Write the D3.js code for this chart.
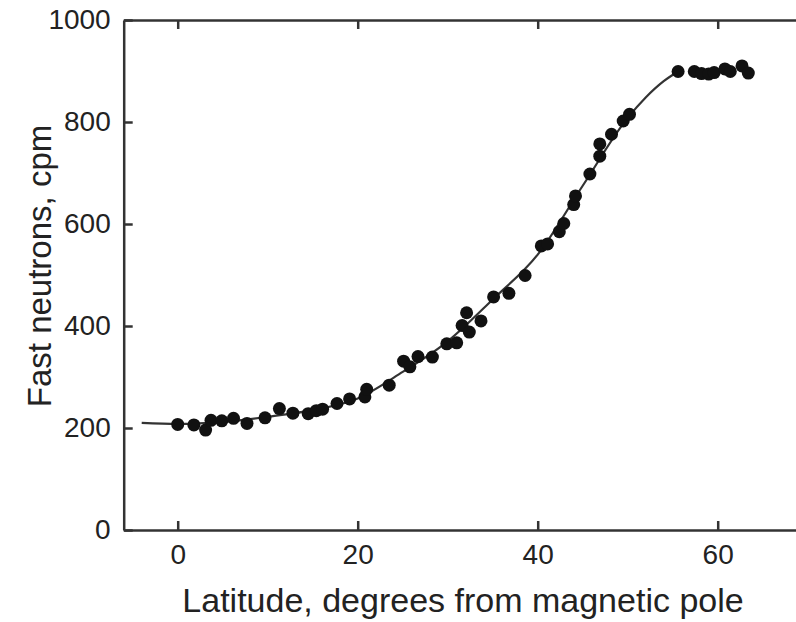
<!DOCTYPE html>
<html>
<head>
<meta charset="utf-8">
<script src="https://cdn.jsdelivr.net/npm/d3@7"></script>
<style>
  html, body { margin: 0; padding: 0; background: #fff; }
  svg { display: block; font-family: "Liberation Sans", Arial, Helvetica, sans-serif; }
</style>
</head>
<body>
<svg id="chart" width="796" height="622"></svg>
<script>
// ---- data ----
const latitude = [0, 1.8, 3.1, 3.7, 4.9, 6.2, 7.7, 9.7, 11.3, 12.8, 14.5, 15.4, 16.1, 17.7, 19.1,
  20.8, 21.0, 23.5, 25.1, 25.8, 26.7, 28.3, 29.9, 31.0, 31.6, 32.1, 32.4, 33.7, 35.1, 36.8, 38.6,
  40.4, 41.1, 42.4, 42.9, 44.0, 44.2, 45.8, 46.9, 46.9, 48.2, 49.5, 50.2,
  55.6, 57.4, 58.2, 59.0, 59.6, 60.8, 61.4, 62.7, 63.4];
const neutrons = [207, 206, 196, 215, 214, 219, 209, 220, 238, 229, 228, 234, 237, 248, 257,
  261, 276, 284, 331, 320, 340, 339, 365, 367, 401, 426, 388, 410, 457, 464, 499,
  557, 561, 585, 601, 638, 655, 698, 733, 757, 776, 802, 815,
  899, 899, 895, 894, 897, 904, 899, 910, 896];

// fitted curve
const fitLatitude = [-4, 0, 5, 10, 15, 20, 25, 30, 35, 40, 45, 50, 52, 54, 55.6];
const fitNeutrons = [210, 208, 212, 222, 235, 258, 310, 370, 452, 540, 675, 808, 848, 880, 899];

const xTicks = [0, 20, 40, 60];
const yTicks = [0, 200, 400, 600, 800, 1000];
const xTitle = "Latitude, degrees from magnetic pole";
const yTitle = "Fast neutrons, cpm";

// ---- layout ----
const svg = d3.select("#chart");
const x = d3.scaleLinear().domain([-6, 70]).range([123.7, 807.7]);
const y = d3.scaleLinear().domain([0, 1000]).range([530, 20]);
const axisColor = "#333";
const textColor = "#222";

// axes (frame with inward ticks)
const gB = svg.append("g").attr("transform", `translate(0,${y(0)})`)
  .call(d3.axisBottom(x).tickValues(xTicks).tickSizeInner(-9).tickSizeOuter(0).tickPadding(14).tickFormat(d3.format("d")));
const gT = svg.append("g").attr("transform", `translate(0,${y(1000)})`)
  .call(d3.axisTop(x).tickValues(xTicks).tickSizeInner(-9).tickSizeOuter(0).tickFormat(""));
const gL = svg.append("g").attr("transform", `translate(${x(-6)},0)`)
  .call(d3.axisLeft(y).tickValues(yTicks).tickSizeInner(-9).tickSizeOuter(0).tickPadding(13).tickFormat(d3.format("d")));
const gR = svg.append("g").attr("transform", `translate(${x(70)},0)`)
  .call(d3.axisRight(y).tickValues(yTicks).tickSizeInner(-10).tickSizeOuter(0).tickFormat(""));

[gB, gT, gL, gR].forEach(g => {
  g.select(".domain").attr("stroke", axisColor).attr("stroke-width", 2.5);
  g.selectAll(".tick line").attr("stroke", axisColor).attr("stroke-width", 2.5);
  g.selectAll(".tick text").attr("fill", textColor).style("font-size", "28px");
});

// fitted line
const line = d3.line().x(d => x(d[0])).y(d => y(d[1])).curve(d3.curveMonotoneX);
svg.append("path")
  .datum(fitLatitude.map((v, i) => [v, fitNeutrons[i]]))
  .attr("d", line)
  .attr("fill", "none")
  .attr("stroke", "#333")
  .attr("stroke-width", 2.2);

// data points
svg.append("g").selectAll("circle")
  .data(latitude.map((v, i) => [v, neutrons[i]]))
  .join("circle")
  .attr("cx", d => x(d[0]))
  .attr("cy", d => y(d[1]))
  .attr("r", 6.5)
  .attr("fill", "#111");

// titles
svg.append("text")
  .attr("x", 463).attr("y", 612)
  .attr("text-anchor", "middle")
  .attr("fill", textColor)
  .style("font-size", "34px")
  .text(xTitle);

svg.append("text")
  .attr("transform", `translate(51,266) rotate(-90)`)
  .attr("text-anchor", "middle")
  .attr("fill", textColor)
  .style("font-size", "33px")
  .text(yTitle);
</script>
</body>
</html>
